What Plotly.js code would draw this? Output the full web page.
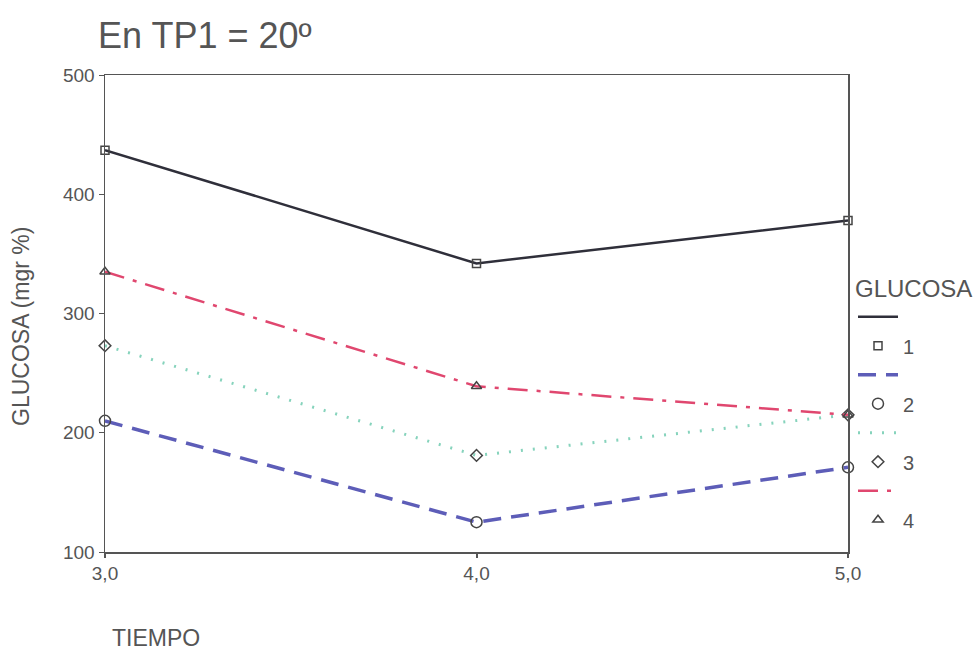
<!DOCTYPE html>
<html>
<head>
<meta charset="utf-8">
<script src="https://cdn.plot.ly/plotly-3.0.1.min.js"></script>
<style>html,body{margin:0;padding:0;background:#fff;}</style>
</head>
<body>
<div id="chart" style="width:980px;height:660px;"></div>
<script>
const tiempo = [3.0, 4.0, 5.0];
const glucosa1 = [437, 342, 378];
const glucosa2 = [210, 125, 171];
const glucosa3 = [273, 181, 215];
const glucosa4 = [335, 239, 215];
const seriesNames = ['1', '2', '3', '4'];
const yTicks = [100, 200, 300, 400, 500];
const xTicks = [3.0, 4.0, 5.0];

const seriesData = [glucosa1, glucosa2, glucosa3, glucosa4];
const lineStyles = [
  {color: '#2f2f3a', dash: 'solid', width: 2.5},
  {color: '#5d5db8', dash: '18px,10px', width: 3.5},
  {color: '#86d3bc', dash: '2px,10px', width: 3},
  {color: '#e0476f', dash: '20px,9px,4px,9px', width: 2.5}
];
const markerStyles = [
  {symbol: 'square-open', size: 8},
  {symbol: 'circle-open', size: 11},
  {symbol: 'diamond-open', size: 9},
  {symbol: 'triangle-up-open', size: 9}
];

const traces = [];
seriesData.forEach((ys, i) => {
  traces.push({
    x: tiempo, y: ys, mode: 'lines', name: ' ',
    line: lineStyles[i], hoverinfo: 'skip'
  });
  traces.push({
    x: tiempo, y: ys, mode: 'markers', name: seriesNames[i],
    marker: {symbol: markerStyles[i].symbol, size: markerStyles[i].size,
             color: '#444', line: {color: '#444', width: 1.5}},
    cliponaxis: false
  });
});

const layout = {
  width: 980, height: 660,
  margin: {l: 105, r: 132, t: 75, b: 108, autoexpand: false},
  paper_bgcolor: '#fff', plot_bgcolor: '#fff',
  separators: ',.',
  font: {family: 'Liberation Sans, Arial, sans-serif', color: '#555'},
  title: {
    text: 'En TP1 = 20º',
    font: {size: 36, color: '#555'},
    x: 98 / 980, xanchor: 'left', xref: 'container',
    y: 1 - 35 / 660, yanchor: 'middle', yref: 'container'
  },
  xaxis: {
    range: [3, 5], tickvals: xTicks, tickformat: '.1f',
    showgrid: false, zeroline: false,
    showline: true, linecolor: '#555', linewidth: 1.5, mirror: true,
    ticks: 'outside', ticklen: 4, tickcolor: '#555', tickwidth: 2,
    tickfont: {size: 19, color: '#555'}
  },
  yaxis: {
    range: [100, 500], tickvals: yTicks,
    showgrid: false, zeroline: false,
    showline: true, linecolor: '#555', linewidth: 1.5, mirror: true,
    ticks: 'outside', ticklen: 5, tickcolor: '#555',
    tickfont: {size: 19, color: '#555'}
  },
  showlegend: true,
  legend: {
    x: (853 - 105) / 743, xanchor: 'left', y: (552 - 266) / 477, yanchor: 'top',
    title: {text: 'GLUCOSA', font: {size: 24, color: '#555'}},
    font: {size: 20, color: '#555'},
    tracegroupgap: 0, itemwidth: 40,
    bgcolor: 'rgba(0,0,0,0)'
  },
  annotations: [{
    text: 'TIEMPO', xref: 'paper', yref: 'paper',
    x: (110 - 105) / 743, xanchor: 'left',
    y: -(638 - 552) / 477, yanchor: 'middle',
    showarrow: false, font: {size: 23, color: '#555'}
  }, {
    text: 'GLUCOSA (mgr %)', xref: 'paper', yref: 'paper', textangle: -90,
    x: (21 - 105) / 743, xanchor: 'center',
    y: (552 - 327) / 477, yanchor: 'middle',
    showarrow: false, font: {size: 23, color: '#555'}
  }]
};

Plotly.newPlot('chart', traces, layout, {displayModeBar: false, staticPlot: true});
</script>
</body>
</html>
